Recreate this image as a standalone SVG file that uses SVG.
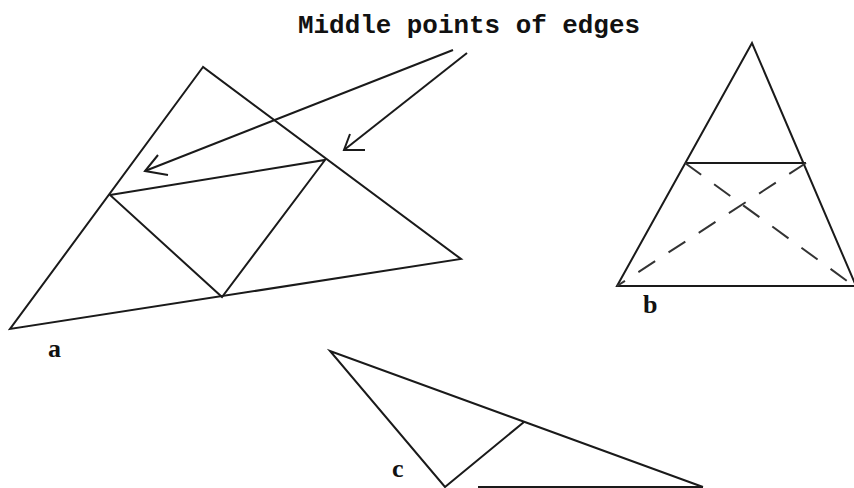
<svg xmlns="http://www.w3.org/2000/svg" width="854" height="488" viewBox="0 0 854 488">
<style>
.ln{stroke:#1a1a1a;stroke-width:2;fill:none;stroke-linejoin:miter}
.dash{stroke:#333;stroke-width:2;fill:none;stroke-dasharray:20 16}
.lbl{font-family:"Liberation Serif",serif;font-weight:bold;font-size:26px;fill:#111}
.title{font-family:"Liberation Mono",monospace;font-weight:bold;font-size:25px;fill:#111}
</style>
<rect width="854" height="488" fill="#fff"/>
<g id="title"><text class="title" x="298" y="33" textLength="342" lengthAdjust="spacingAndGlyphs">Middle points of edges</text></g>
<g id="triangle-a">
<polygon class="ln" points="203,67 10,329 461,259"/>
<polygon class="ln" points="110,195 325,160 222,297"/>
<text class="lbl" x="48" y="357">a</text>
</g>
<g id="triangle-b">
<polygon class="ln" points="752,43 617,286 856,286"/>
<line class="ln" x1="685" y1="163" x2="806" y2="163"/>
<line class="dash" x1="685" y1="163" x2="854" y2="286"/>
<line class="dash" x1="806" y1="163" x2="617" y2="286"/>
<text class="lbl" x="643" y="313">b</text>
</g>
<g id="triangle-c">
<polyline class="ln" points="703,487 330,351 445,487 524,422"/>
<line class="ln" x1="478" y1="487" x2="703" y2="487"/>
<text class="lbl" x="392" y="477">c</text>
</g>
<g id="connectors">
<line class="ln" x1="453" y1="50" x2="145" y2="171"/>
<polyline class="ln" points="158,155 145,171 168,175"/>
<line class="ln" x1="467" y1="53" x2="344" y2="150"/>
<polyline class="ln" points="350,134 344,150 365,150"/>
</g>
</svg>
